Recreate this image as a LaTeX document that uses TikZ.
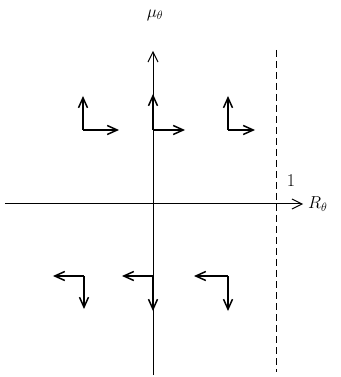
\documentclass[tikz,border=0pt]{standalone}
\usepackage{amsmath,amssymb}
\usepackage{tikz}
\usetikzlibrary{arrows.meta,positioning}

\begin{document}
\begin{tikzpicture}[
  x=1pt,y=1pt,
  axis/.style={-{Straight Barb[length=10pt,width=10pt]},line width=1pt},
  flow/.style={-{Straight Barb[length=10pt,width=9pt]},line width=1.5pt},
  bound/.style={dash pattern=on 7pt off 4pt,line width=1pt},
  lbl/.style={inner sep=1pt,font=\fontsize{18}{21}\selectfont}
]
\useasboundingbox (-153,-173) rectangle (187,204);
% axes
\coordinate (O) at (0,0);
\coordinate (Xl) at (-148,0);
\coordinate (Xr) at (150,0);
\coordinate (Yb) at (0,-171);
\coordinate (Yt) at (0,153);
\draw[line width=1pt] (O) -- (Yb);
\draw[axis] (Yb) -- (Yt);
\draw[axis] (Xl) -- (Xr);
\node[lbl,right=4pt of Xr] (R) {$R_\theta$};
\node[lbl] (mu) at (2,189) {$\mu_\theta$};
% boundary at R = 1
\coordinate (Bt) at (123,154);
\coordinate (Bb) at (123,-168);
\draw[bound] (Bt) -- (Bb);
\node[lbl] (one) at (138,23) {1};
% upper half: flow up and to the right
\coordinate (ua) at (-70,74);
\coordinate (ub) at (0,74);
\coordinate (uc) at (75,74);
\draw[flow] (ua) -- ++(0,34);
\draw[flow] (ua) -- ++(36,0);
\draw[flow] (ub) -- ++(0,36);
\draw[flow] (ub) -- ++(32,0);
\draw[flow] (uc) -- ++(0,34);
\draw[flow] (uc) -- ++(27,0);
% lower half: flow down and to the left
\coordinate (la) at (-69,-72);
\coordinate (lb) at (0,-72);
\coordinate (lc) at (75,-72);
\draw[flow] (la) -- ++(-31,0);
\draw[flow] (la) -- ++(0,-33);
\draw[flow] (lb) -- ++(-31,0);
\draw[flow] (lb) -- ++(0,-35);
\draw[flow] (lc) -- ++(-34,0);
\draw[flow] (lc) -- ++(0,-35);
\end{tikzpicture}
\end{document}
